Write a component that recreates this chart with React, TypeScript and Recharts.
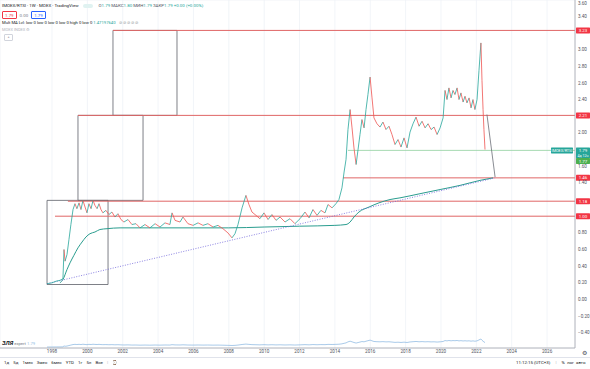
import React from "react";
import {
  ComposedChart,
  Line,
  XAxis,
  YAxis,
  CartesianGrid,
  ReferenceLine,
  ReferenceArea,
} from "recharts";

// ── Palette (TradingView light) ──
const UP = "#26a69a";
const DOWN = "#ef5350";
const LEVEL = "#e06666";
const TAG_RED = "#f23645";
const MA = "#2a9d8f";
const TREND = "#6f63d9";
const PANE = "#93bde3";
const GRID = "#eef1f6";
const AXIS = "#a3a6af";
const TXT = "#50535e";
const FONT = "Roboto, 'Noto Sans', sans-serif";

// ── Data: weekly closes (year, ratio) ──
const price: [number, number][] = [
  [1997.72, 0.19], [1998.0, 0.2], [1998.23, 0.22], [1998.45, 0.23], [1998.62, 0.25],
  [1998.68, 0.6], [1998.74, 0.46], [1998.85, 0.54], [1998.96, 0.72], [1999.07, 0.9],
  [1999.19, 1.08], [1999.3, 1.15], [1999.41, 1.09], [1999.53, 1.16], [1999.64, 1.08],
  [1999.75, 1.19], [1999.87, 1.11], [1999.98, 1.04], [2000.09, 1.15], [2000.21, 1.09],
  [2000.32, 1.19], [2000.43, 1.13], [2000.55, 1.09], [2000.66, 1.15], [2000.77, 1.08],
  [2000.88, 1.04], [2001.05, 1.07], [2001.22, 1.02], [2001.39, 1.05], [2001.56, 0.99],
  [2001.73, 1.03], [2001.9, 0.96], [2002.07, 0.93], [2002.3, 0.96], [2002.52, 0.9],
  [2002.75, 0.91], [2002.98, 0.86], [2003.26, 0.9], [2003.54, 0.86], [2003.83, 0.91],
  [2004.11, 0.87], [2004.39, 0.92], [2004.67, 0.9], [2004.79, 1.04], [2004.96, 0.95],
  [2005.24, 0.93], [2005.41, 0.99], [2005.69, 0.91], [2005.98, 0.89], [2006.26, 0.92],
  [2006.54, 0.89], [2006.82, 0.91], [2007.11, 0.87], [2007.39, 0.89], [2007.67, 0.85],
  [2007.95, 0.8], [2008.18, 0.74], [2008.35, 0.79], [2008.52, 0.9], [2008.75, 1.1],
  [2008.97, 1.25], [2009.14, 1.14], [2009.31, 1.05], [2009.54, 1.01], [2009.76, 0.97],
  [2009.99, 1.04], [2010.22, 0.96], [2010.44, 1.02], [2010.67, 0.95], [2010.9, 0.99],
  [2011.18, 0.93], [2011.46, 0.97], [2011.74, 0.91], [2012.03, 0.97], [2012.31, 1.05],
  [2012.54, 0.98], [2012.76, 1.08], [2012.99, 1.01], [2013.21, 1.07], [2013.44, 1.04],
  [2013.61, 1.14], [2013.84, 1.1], [2014.06, 1.15], [2014.23, 1.2], [2014.4, 1.34],
  [2014.52, 1.53], [2014.63, 1.68], [2014.74, 2.04], [2014.86, 2.28], [2014.97, 2.06],
  [2015.08, 1.82], [2015.2, 1.62], [2015.31, 1.8], [2015.42, 1.98], [2015.53, 2.16],
  [2015.65, 2.06], [2015.76, 2.28], [2015.87, 2.46], [2015.99, 2.67], [2016.1, 2.42],
  [2016.21, 2.18], [2016.38, 2.11], [2016.55, 2.07], [2016.72, 2.13], [2016.89, 2.04],
  [2017.06, 2.08], [2017.23, 1.98], [2017.4, 1.86], [2017.57, 1.92], [2017.74, 1.83],
  [2017.91, 1.94], [2018.08, 1.82], [2018.25, 2.01], [2018.42, 2.11], [2018.59, 2.19],
  [2018.76, 2.08], [2018.93, 2.14], [2019.1, 2.06], [2019.27, 2.11], [2019.44, 2.04],
  [2019.61, 2.07], [2019.78, 1.98], [2019.95, 2.06], [2020.12, 2.18], [2020.23, 2.51],
  [2020.34, 2.4], [2020.45, 2.54], [2020.57, 2.42], [2020.68, 2.51], [2020.79, 2.46],
  [2020.91, 2.54], [2021.02, 2.4], [2021.13, 2.48], [2021.25, 2.37], [2021.36, 2.44],
  [2021.47, 2.36], [2021.59, 2.42], [2021.7, 2.3], [2021.81, 2.4], [2021.92, 2.28],
  [2022.04, 2.4], [2022.15, 2.75], [2022.26, 3.08], [2022.32, 2.63], [2022.38, 2.28],
  [2022.43, 2.04], [2022.49, 1.8],
];

// long moving average
const movingAvg: [number, number][] = [
  [1998.45, 0.2], [1998.62, 0.24], [1998.85, 0.36], [1999.02, 0.44], [1999.24, 0.53],
  [1999.47, 0.62], [1999.7, 0.69], [1999.92, 0.75], [2000.15, 0.79], [2000.43, 0.81],
  [2000.71, 0.84], [2001.11, 0.85], [2001.85, 0.86], [2004.0, 0.86], [2006.0, 0.86],
  [2008.0, 0.86], [2010.0, 0.87], [2012.0, 0.88], [2014.0, 0.89], [2014.63, 0.9],
  [2014.86, 0.93], [2015.08, 0.99], [2015.36, 1.05], [2015.93, 1.11], [2016.49, 1.16],
  [2017.12, 1.2], [2017.68, 1.22], [2018.81, 1.27], [2019.95, 1.32], [2021.08, 1.37],
  [2022.21, 1.43], [2022.94, 1.46],
];

// drawings
const trendLine: [number, number][] = [[1997.72, 0.19], [2023.06, 1.46]];
const projection: [number, number][] = [[2022.6, 2.22], [2023.06, 1.47]];
const levelValues = [3.23, 2.21, 1.46, 1.18, 1.0];
const levelStarts = [2001.45, 1999.47, 2014.46, 1998.9, 1998.17];
const boxX1 = [1997.72, 1999.47, 2001.45];
const boxX2 = [2001.17, 2003.15, 2005.07];
const boxY1 = [0.18, 1.19, 2.21];
const boxY2 = [1.19, 2.21, 3.23];
const lastPrice = 1.79;
const lastPriceStart = 2014.74;
const countdownPrice = 1.663;

const yearTicks = [1998, 2000, 2002, 2004, 2006, 2008, 2010, 2012, 2014, 2016, 2018, 2020, 2022, 2024, 2026];
const valueTicks = [-0.4, -0.2, 0, 0.2, 0.4, 0.6, 0.8, 1.0, 1.2, 1.4, 1.6, 1.8, 2.0, 2.2, 2.4, 2.6, 2.8, 3.0, 3.2, 3.4, 3.6];

const X_DOMAIN: [number, number] = [1995.06, 2027.58];
const Y_DOMAIN: [number, number] = [-0.582, 3.595];

const priceRows = price.map(([year, v]) => ({ year, v }));
const maRows = movingAvg.map(([year, v]) => ({ year, v }));

const tagValues = [...levelValues, lastPrice];
const fmt = (v: number) => (v < 0 ? "\u2212" + Math.abs(v).toFixed(2) : v.toFixed(2));

// scale label, hidden where a price tag sits on top of it
function ValueTick(props: any) {
  const { x, y, payload } = props;
  const v = payload.value as number;
  if (tagValues.some((t) => Math.abs(t - v) < 0.045)) return null;
  return (
    <text x={x} y={Math.max(y, 3)} dy="0.35em" fontSize={4.6} fill={TXT} fontFamily={FONT} textAnchor="start">
      {fmt(v)}
    </text>
  );
}

// price tag on the right scale
function AxisTag(props: any) {
  const { viewBox, text, bg, sub } = props;
  if (!viewBox) return null;
  const x = viewBox.x + viewBox.width + 1;
  const y = viewBox.y;
  const h = sub ? 11 : 6;
  return (
    <g>
      <rect x={x} y={y - 3} width={14} height={h} fill={bg} rx={0.6} />
      <text x={x + 7} y={y + 1.6} textAnchor="middle" fontSize={4.4} fill="#fff" fontFamily={FONT}>
        {text}
      </text>
      {sub && (
        <text x={x + 7} y={y + 6.3} textAnchor="middle" fontSize={3.6} fill="#fff" fontFamily={FONT}>
          {sub}
        </text>
      )}
    </g>
  );
}

function SeriesTag(props: any) {
  const { viewBox } = props;
  if (!viewBox) return null;
  const x = viewBox.x + viewBox.width - 24;
  const y = viewBox.y;
  return (
    <g>
      <rect x={x} y={y - 3} width={22} height={6} fill={UP} rx={0.6} />
      <text x={x + 11} y={y + 1.5} textAnchor="middle" fontSize={3.8} fill="#fff" fontFamily={FONT}>
        IMOEX/RTSI
      </text>
    </g>
  );
}

export default function App() {
  const segs = priceRows.slice(1).map((p, i) => ({
    a: priceRows[i],
    b: p,
    up: p.v >= priceRows[i].v,
  }));

  return (
    <div
      style={{
        position: "absolute",
        left: 0,
        top: 0,
        width: 590,
        height: 369,
        background: "#fff",
        overflow: "hidden",
        fontFamily: FONT,
        color: TXT,
      }}
    >
      <style>{`body{margin:0}`}</style>
      <ComposedChart width={590} height={357} margin={{ top: 0, right: 0, left: 0, bottom: 0 }}>
        <CartesianGrid stroke={GRID} strokeWidth={0.8} />
        <XAxis
          dataKey="year"
          type="number"
          domain={X_DOMAIN}
          allowDataOverflow
          ticks={yearTicks}
          interval={0}
          height={9}
          tickSize={0}
          tickMargin={2}
          tick={{ fontSize: 4.6, fill: TXT, fontFamily: FONT }}
          axisLine={{ stroke: AXIS, strokeWidth: 0.8 }}
          tickLine={false}
        />
        <YAxis
          yAxisId="p"
          orientation="right"
          type="number"
          domain={Y_DOMAIN}
          allowDataOverflow
          ticks={valueTicks}
          interval={0}
          width={15}
          tickSize={0}
          tickMargin={3}
          tick={<ValueTick />}
          axisLine={{ stroke: AXIS, strokeWidth: 0.8 }}
          tickLine={false}
        />
        <YAxis yAxisId="pane" hide type="number" domain={[-0.16, 125]} allowDataOverflow />

        {/* boxes */}
        {boxX1.map((x1, i) => (
          <ReferenceArea
            key={"box" + i}
            yAxisId="p"
            x1={x1}
            x2={boxX2[i]}
            y1={boxY1[i]}
            y2={boxY2[i]}
            fill="none"
            fillOpacity={0}
            stroke="#5d6068"
            strokeWidth={0.8}
            ifOverflow="visible"
          />
        ))}

        {/* horizontal levels */}
        {levelValues.map((v, i) => (
          <ReferenceLine
            key={"lvl" + i}
            yAxisId="p"
            segment={[
              { x: levelStarts[i], y: v },
              { x: X_DOMAIN[1], y: v },
            ]}
            stroke={LEVEL}
            strokeWidth={1}
            ifOverflow="visible"
          />
        ))}
        <ReferenceLine
          yAxisId="p"
          segment={[
            { x: lastPriceStart, y: lastPrice },
            { x: X_DOMAIN[1], y: lastPrice },
          ]}
          stroke="#8fd19e"
          strokeWidth={0.8}
          ifOverflow="visible"
        />

        <Line
          yAxisId="p"
          data={maRows}
          dataKey="v"
          type="monotone"
          stroke={MA}
          strokeWidth={1}
          dot={false}
          activeDot={false}
          isAnimationActive={false}
        />
        {/* dotted long trend */}
        <ReferenceLine
          yAxisId="p"
          segment={[
            { x: trendLine[0][0], y: trendLine[0][1] },
            { x: trendLine[1][0], y: trendLine[1][1] },
          ]}
          stroke={TREND}
          strokeWidth={0.8}
          strokeDasharray="1 1.5"
          ifOverflow="visible"
        />

        {/* price, coloured by direction */}
        {segs.map((s, i) => (
          <ReferenceLine
            key={"px" + i}
            yAxisId="p"
            segment={[
              { x: s.a.year, y: s.a.v },
              { x: s.b.year, y: s.b.v },
            ]}
            stroke={s.up ? UP : DOWN}
            strokeWidth={0.8}
            ifOverflow="visible"
          />
        ))}
        <ReferenceLine
          yAxisId="p"
          segment={[
            { x: projection[0][0], y: projection[0][1] },
            { x: projection[1][0], y: projection[1][1] },
          ]}
          stroke="#6b6e77"
          strokeWidth={0.8}
          ifOverflow="visible"
        />

        {/* lower pane line */}
        <Line
          yAxisId="pane"
          data={priceRows}
          dataKey="v"
          type="linear"
          stroke={PANE}
          strokeWidth={0.8}
          dot={false}
          activeDot={false}
          isAnimationActive={false}
        />

        {/* right scale tags */}
        {levelValues.map((v, i) => (
          <ReferenceLine
            key={"tag" + i}
            yAxisId="p"
            y={v}
            stroke="none"
            ifOverflow="visible"
            label={<AxisTag text={v.toFixed(2)} bg={TAG_RED} />}
          />
        ))}
        <ReferenceLine
          yAxisId="p"
          y={lastPrice}
          stroke="none"
          ifOverflow="visible"
          label={<AxisTag text={lastPrice.toFixed(2)} bg={UP} sub="4д 12ч" />}
        />
        <ReferenceLine yAxisId="p" y={lastPrice} stroke="none" ifOverflow="visible" label={<SeriesTag />} />
        <ReferenceLine
          yAxisId="p"
          y={countdownPrice}
          stroke="none"
          ifOverflow="visible"
          label={<AxisTag text="1.77" bg="#4caf50" />}
        />
      </ComposedChart>

      {/* legend block, top-left */}
      <div style={{ position: "absolute", left: 2, top: 3, fontSize: 4.4, whiteSpace: "nowrap", lineHeight: "5px" }}>
        <span style={{ color: "#131722" }}>IMOEX/RTSI · 1W · MOEX · TradingView</span>
        <span style={{ marginLeft: 4, display: "inline-block", width: 10, height: 4, borderRadius: 2, background: "#e0f2f1", verticalAlign: "middle" }} />
        <span style={{ marginLeft: 6 }}>
          О<span style={{ color: UP }}>1.79</span> МАКС<span style={{ color: UP }}>1.80</span> МИН
          <span style={{ color: UP }}>1.79</span> ЗАКР<span style={{ color: UP }}>1.79</span>{" "}
          <span style={{ color: UP }}>+0.00 (+0.00%)</span>
        </span>
      </div>
      <div style={{ position: "absolute", left: 2, top: 11, fontSize: 4.4, whiteSpace: "nowrap", display: "flex", gap: 3, alignItems: "center" }}>
        <span style={{ border: "0.8px solid " + TAG_RED, color: TAG_RED, padding: "0.5px 2px", borderRadius: 1 }}>1.79</span>
        <span style={{ color: "#787b86" }}>0.00</span>
        <span style={{ border: "0.8px solid #2962ff", color: "#2962ff", padding: "0.5px 2px", borderRadius: 1 }}>1.79</span>
      </div>
      <div style={{ position: "absolute", left: 2, top: 20, fontSize: 4.2, whiteSpace: "nowrap", color: "#131722" }}>
        Mult MA Lvl: low 0 low 0 low 0 low 0 high 0 low 0{" "}
        <span style={{ color: UP }}>1.47197640</span>
        <span style={{ color: "#9598a1", marginLeft: 3 }}>⊘ ⊘ ⊘ ⊘ ⊘</span>
      </div>
      <div style={{ position: "absolute", left: 2, top: 27, fontSize: 4, whiteSpace: "nowrap", color: "#b2b5be" }}>
        MOEX INDEX ⚙
      </div>
      <div style={{ position: "absolute", left: 4, top: 34, width: 7, height: 5, border: "0.6px solid #d1d4dc", borderRadius: 1, fontSize: 4, lineHeight: "5px", textAlign: "center", color: "#787b86" }}>
        ^
      </div>

      {/* lower pane caption */}
      <div style={{ position: "absolute", left: 2, top: 339, fontSize: 4.2, whiteSpace: "nowrap" }}>
        <b style={{ fontStyle: "italic", fontSize: 6, color: "#131722" }}>ЗЛЯ</b>{" "}
        <span style={{ color: "#787b86" }}>expert</span> <span style={{ color: PANE }}>1.79</span>
      </div>

      {/* bottom toolbar */}
      <div style={{ position: "absolute", left: 0, top: 357, width: 590, borderTop: "0.8px solid #e0e3eb" }} />
      <div style={{ position: "absolute", left: 4, top: 360, fontSize: 4.4, whiteSpace: "nowrap", color: "#131722", wordSpacing: 3 }}>
        1д 5д 1мес 3мес 6мес YTD 1г 5л Все <span style={{ color: "#b2b5be" }}>|</span> ⌚
      </div>
      <div style={{ position: "absolute", left: 516, top: 360, fontSize: 4.4, whiteSpace: "nowrap", color: "#131722" }}>
        11:12:15 (UTC+3) <span style={{ color: "#b2b5be", margin: "0 4px" }}>|</span> % &nbsp;лог &nbsp;авто
      </div>
      <div style={{ position: "absolute", left: 582, top: 349, fontSize: 6, color: "#50535e" }}>⚙</div>
    </div>
  );
}
